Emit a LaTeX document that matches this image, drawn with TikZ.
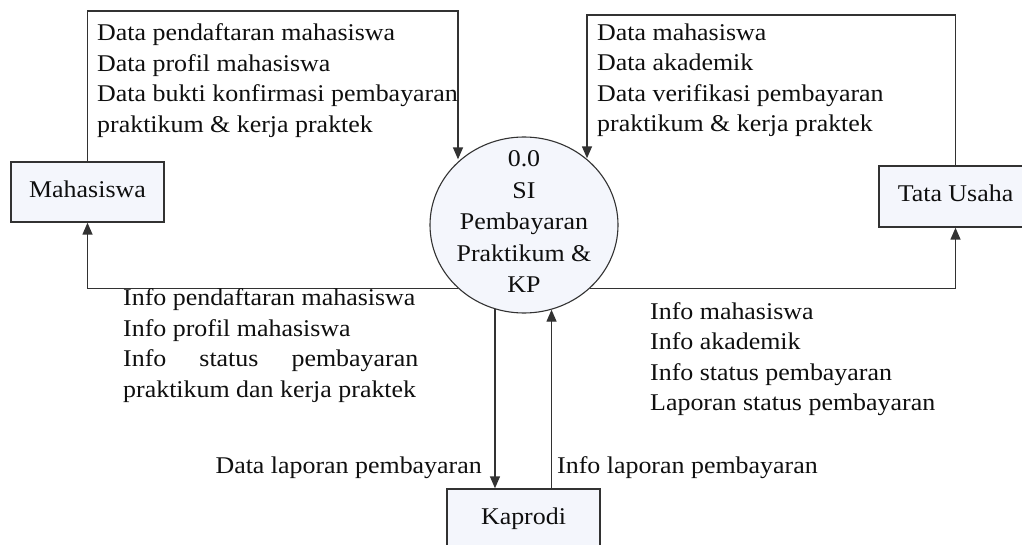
\documentclass[tikz,border=0pt]{standalone}
\usepackage{fontspec}
\setmainfont{Liberation Serif}[FakeStretch=1.08]
\usetikzlibrary{arrows.meta,shapes.geometric}
\definecolor{linec}{RGB}{50,50,50}
\definecolor{textc}{RGB}{15,15,15}
\definecolor{boxfill}{RGB}{244,246,252}
\tikzset{
  ent/.style={draw=linec, line width=1.4pt, fill=boxfill, minimum width=153pt, minimum height=60pt,
    inner sep=0pt, text height=16pt, text depth=5pt, font=\fontsize{24}{30.5}\selectfont, text=textc},
  proc/.style={ellipse, draw=linec, line width=1.1pt, fill=boxfill, minimum width=188pt, minimum height=176pt, inner sep=0pt},
  lbl/.style={inner sep=0pt, align=left, font=\fontsize{24}{30.5}\selectfont, text=textc},
  flow/.style={draw=linec, line width=1.4pt, -{Triangle[length=12pt,width=10pt]}},
}
\begin{document}
\begin{tikzpicture}[x=1pt,y=-1pt]
\useasboundingbox (0,0) rectangle (1022,545);
\clip (0,0) rectangle (1022,545);
\fill[white] (0,0) rectangle (1022,545);

\node[ent] (mhs) at (87.5,192) {Mahasiswa};
\node[ent, minimum height=61pt] (tu) at (955.5,196.5) {Tata Usaha};
\node[ent] (kap) at (523.5,519) {Kaprodi};
\node[proc] (circ) at (524,225) {};
\node[inner sep=0pt, align=center, font=\fontsize{24}{31.5}\selectfont, text=textc] (ctext) at (524,222)
  {0.0\\SI\\Pembayaran\\Praktikum \&\\KP};

\coordinate (tl) at (458,11);
\coordinate (tr) at (587,15);

\draw[flow] (mhs.north) |- (tl) -- (tl |- circ.134);
\draw[flow] (tu.north) |- (tr) -- (tr |- circ.47);
\draw[flow] (circ.224) -- (circ.224 -| mhs.south) -- (mhs.south);
\draw[flow] (circ.316) -- (circ.316 -| tu.south) -- (tu.south);
\draw[flow] (circ.251) -- (circ.251 |- kap.north);
\draw[flow] (kap.north -| circ.288) -- (circ.288);

\node[lbl, anchor=north west] (t1) at (97,23.6)
  {Data pendaftaran mahasiswa\\Data profil mahasiswa\\Data bukti konfirmasi pembayaran\\praktikum \& kerja praktek};
\node[lbl, anchor=north west] (t2) at (597,23.6)
  {Data mahasiswa\\Data akademik\\Data verifikasi pembayaran\\praktikum \& kerja praktek};
\node[lbl, anchor=north west] (t3) at (123,288.6)
  {Info pendaftaran mahasiswa\\Info profil mahasiswa\\\hbox to 295pt{Info\hfill status\hfill pembayaran}\\praktikum dan kerja praktek};
\node[lbl, anchor=north west] (t4) at (650,302)
  {Info mahasiswa\\Info akademik\\Info status pembayaran\\Laporan status pembayaran};
\node[lbl, anchor=base east] (t5) at (482,473) {Data laporan pembayaran};
\node[lbl, anchor=base west] (t6) at (557,473) {Info laporan pembayaran};
\end{tikzpicture}
\end{document}
